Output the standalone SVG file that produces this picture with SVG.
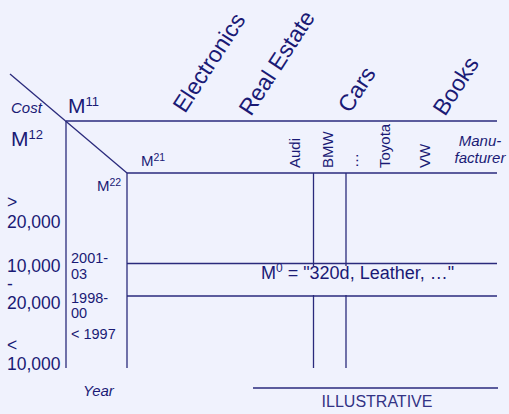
<svg xmlns="http://www.w3.org/2000/svg" width="509" height="414" viewBox="0 0 509 414">
<style>
text{font-family:"Liberation Sans",Arial,sans-serif;fill:#1a1a75}
.it{font-style:italic}
.ln{stroke:#2a2a7c;stroke-width:1.3;fill:none}
.cat{font-size:23px}
.mf{font-size:15px}
.num{font-size:17.5px}
.yr{font-size:14.5px}
</style>
<rect width="509" height="414" fill="#f0f2fd"/>
<g id="connectors">
<line class="ln" x1="10" y1="74" x2="127" y2="173"/>
<line class="ln" x1="66" y1="121" x2="497" y2="121"/>
<line class="ln" x1="66" y1="121" x2="66" y2="368"/>
<line class="ln" x1="127" y1="173" x2="497" y2="173"/>
<line class="ln" x1="127" y1="173" x2="127" y2="368"/>
<line class="ln" x1="313.5" y1="173" x2="313.5" y2="368"/>
<line class="ln" x1="346" y1="173" x2="346" y2="368"/>
<line class="ln" x1="127" y1="263.5" x2="497" y2="263.5"/>
<line class="ln" x1="127" y1="296" x2="497" y2="296"/>
<line class="ln" x1="253" y1="388" x2="498" y2="388"/>
</g>
<g id="m0">
<rect x="253" y="266" width="209" height="29" fill="#f0f2fd"/>
<text x="261" y="279" font-size="18">M<tspan font-size="12" dy="-7">0</tspan><tspan dy="7"> = "320d, Leather, …"</tspan></text>
</g>
<g id="corner">
<text class="it" x="11" y="113" font-size="15">Cost</text>
<text x="68" y="113" font-size="21">M<tspan font-size="13" dy="-7">11</tspan></text>
<text x="11" y="146" font-size="21">M<tspan font-size="13" dy="-7">12</tspan></text>
<text x="141" y="166" font-size="15">M<tspan font-size="10.5" dy="-5">21</tspan></text>
<text x="97" y="191" font-size="15">M<tspan font-size="10.5" dy="-5">22</tspan></text>
</g>
<g id="categories">
<text class="cat" transform="translate(185,114) rotate(-57)">Electronics</text>
<text class="cat" transform="translate(251,117) rotate(-57)">Real Estate</text>
<text class="cat" transform="translate(350,114) rotate(-57)">Cars</text>
<text class="cat" transform="translate(445,117) rotate(-57)">Books</text>
</g>
<g id="manufacturers">
<text class="mf" transform="translate(300,168) rotate(-90)">Audi</text>
<text class="mf" transform="translate(333,168) rotate(-90)">BMW</text>
<text class="mf" transform="translate(358,168) rotate(-90)">…</text>
<text class="mf" transform="translate(390,168) rotate(-90)">Toyota</text>
<text class="mf" transform="translate(430,168) rotate(-90)">VW</text>
<text class="it mf" x="480" y="146" text-anchor="middle">Manu-</text>
<text class="it mf" x="480" y="163" text-anchor="middle">facturer</text>
</g>
<g id="cost">
<text class="num" x="7" y="208">&gt;</text>
<text class="num" x="7" y="228">20,000</text>
<text class="num" x="7" y="271.5">10,000</text>
<text class="num" x="7" y="290">-</text>
<text class="num" x="7" y="308.5">20,000</text>
<text class="num" x="7" y="351">&lt;</text>
<text class="num" x="7" y="370">10,000</text>
</g>
<g id="year">
<text class="yr" x="71" y="263">2001-</text>
<text class="yr" x="71" y="279">03</text>
<text class="yr" x="71" y="303">1998-</text>
<text class="yr" x="71" y="318">00</text>
<text class="yr" x="71" y="339">&lt; 1997</text>
<text class="it" x="83" y="396" font-size="15">Year</text>
</g>
<g id="illustrative">
<text x="377" y="407" font-size="16" text-anchor="middle" style="fill:#333385">ILLUSTRATIVE</text>
</g>
</svg>
